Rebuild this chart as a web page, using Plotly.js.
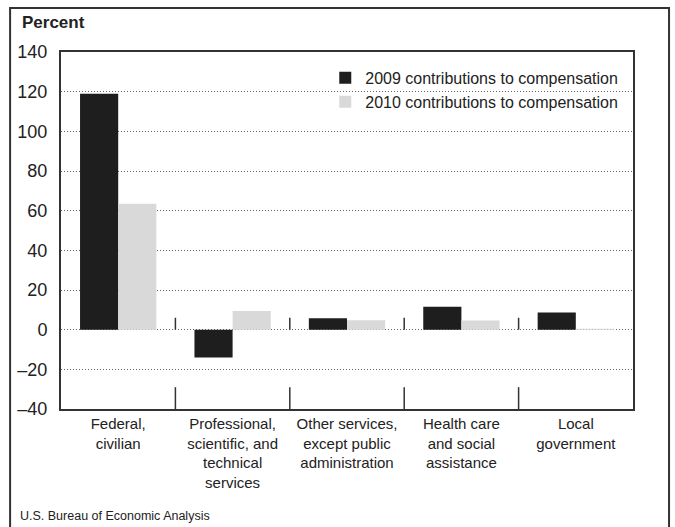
<!DOCTYPE html>
<html>
<head>
<meta charset="utf-8">
<script src="https://cdn.plot.ly/plotly-3.0.1.min.js"></script>
<style>html,body{margin:0;padding:0;background:#fff;}#chart{width:675px;height:527px;}</style>
</head>
<body>
<div id="chart"></div>
<script>
const categories = [
  "Federal,<br>civilian",
  "Professional,<br>scientific, and<br>technical<br>services",
  "Other services,<br>except public<br>administration",
  "Health care<br>and social<br>assistance",
  "Local<br>government"
];
const values2009 = [119, -14, 5.8, 11.6, 8.6];
const values2010 = [63.5, 9.4, 4.7, 4.6, 0.5];
const seriesNames = ["2009 contributions to compensation", "2010 contributions to compensation"];
const yTicks = [-40, -20, 0, 20, 40, 60, 80, 100, 120, 140];
const yTickText = ["\u201340", "\u201320", "0", "20", "40", "60", "80", "100", "120", "140"];

const xIdx = categories.map((c, i) => i);
const font = "Liberation Sans, Arial, Helvetica, sans-serif";

const traces = [
  {type: "bar", x: xIdx, y: values2009, name: seriesNames[0], legendgroup: "a",
   marker: {color: "#1e1e1e", line: {width: 0}}},
  {type: "bar", x: xIdx, y: values2010, name: seriesNames[1], legendgroup: "b",
   marker: {color: "#d9d9d9", line: {width: 0}}}
];

const shapes = [];
// category separator ticks at zero line and at bottom
for (let i = 0; i < categories.length - 1; i++) {
  shapes.push({type: "line", xref: "x", yref: "y", x0: i + 0.5, x1: i + 0.5, y0: 0, y1: 6,
    line: {color: "#333", width: 1.5}});
  shapes.push({type: "line", xref: "x", yref: "y", x0: i + 0.5, x1: i + 0.5, y0: -40, y1: -29,
    line: {color: "#333", width: 1.5}});
}
// outer frame
shapes.push({type: "rect", xref: "paper", yref: "paper", x0: -0.089, x1: 1.063, y0: -0.35, y1: 1.123,
  line: {color: "#333", width: 2}, layer: "below"});

const layout = {
  width: 675, height: 527,
  margin: {l: 61, r: 42, t: 52, b: 118},
  paper_bgcolor: "#fff", plot_bgcolor: "#fff",
  barmode: "group", bargap: 0.333, bargroupgap: 0,
  font: {family: font, color: "#222"},
  showlegend: true,
  legend: {x: 0.462, y: 0.975, xanchor: "left", yanchor: "top", bgcolor: "rgba(255,255,255,0)",
    font: {size: 16, color: "#222", family: font}, tracegroupgap: 3, itemwidth: 30, traceorder: "normal"},
  xaxis: {
    range: [-0.5, 4.5], tickvals: xIdx, ticktext: categories,
    tickfont: {size: 15, family: font, color: "#222"},
    showgrid: false, zeroline: false, ticks: "",
    showline: true, linecolor: "#333", linewidth: 2, mirror: true, fixedrange: true
  },
  yaxis: {
    range: [-40, 140], tickvals: yTicks, ticktext: yTickText,
    tickfont: {size: 18, family: font, color: "#222"},
    showgrid: true, gridcolor: "#666", griddash: "1px,2px", gridwidth: 1,
    zeroline: false, ticks: "", ticklabelstandoff: 8,
    showline: true, linecolor: "#333", linewidth: 2, mirror: true, fixedrange: true
  },
  shapes: shapes,
  annotations: [
    {xref: "paper", yref: "paper", x: -0.072, y: 1.083, xanchor: "left", yanchor: "middle",
     text: "<b>Percent</b>", showarrow: false, font: {size: 17, family: font, color: "#222"}},
    {xref: "paper", yref: "paper", x: -0.075, y: -0.3, xanchor: "left", yanchor: "middle",
     text: "U.S. Bureau of Economic Analysis", showarrow: false, font: {size: 12.5, family: font, color: "#222"}}
  ]
};

Plotly.newPlot("chart", traces, layout, {displayModeBar: false, staticPlot: true});
</script>
</body>
</html>
